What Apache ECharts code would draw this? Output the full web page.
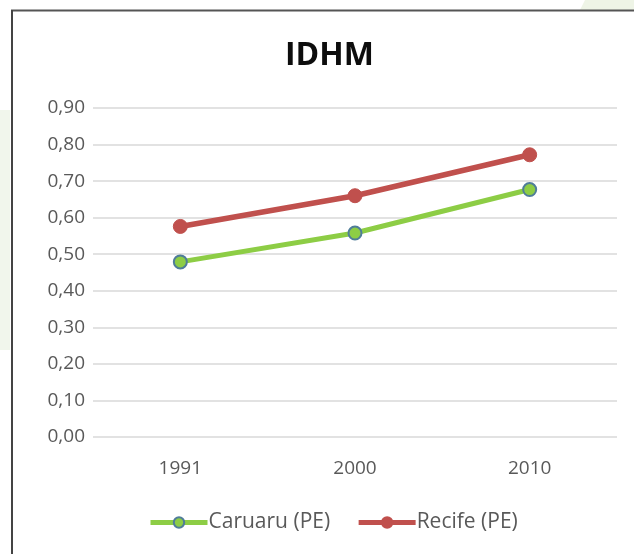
<!DOCTYPE html>
<html>
<head>
<meta charset="utf-8">
<script src="https://cdn.jsdelivr.net/npm/echarts@6/dist/echarts.min.js"></script>
<style>html,body{margin:0;padding:0;background:#fff}#c{width:634px;height:554px}</style>
</head>
<body>
<div id="c"></div>
<script>
const categories = ['1991', '2000', '2010'];
const caruaru = [0.479, 0.558, 0.677];
const recife = [0.576, 0.660, 0.772];
const yMin = 0, yMax = 0.9, yStep = 0.1;

const chart = echarts.init(document.getElementById('c'), null, {renderer: 'canvas'});
const font = 'Open Sans';
chart.setOption({
  backgroundColor: '#ffffff',
  animation: false,
  title: {
    text: 'IDHM', left: 280, top: 35,
    textStyle: {fontFamily: font, fontWeight: 'bold', fontSize: 32, color: '#0d0d0d'}
  },
  graphic: [
    {type: 'polygon', silent: true, z: -1, shape: {points: [[585, 0], [634, 0], [634, 10], [580, 10]]}, style: {fill: '#eef4e6'}},
    {type: 'rect', silent: true, z: -1, shape: {x: 0, y: 110, width: 10, height: 240}, style: {fill: '#f1f6ec'}},
    {type: 'line', silent: true, shape: {x1: 11, y1: 10.5, x2: 634, y2: 10.5}, style: {stroke: '#555', lineWidth: 2}},
    {type: 'line', silent: true, shape: {x1: 12, y1: 10, x2: 12, y2: 554}, style: {stroke: '#444', lineWidth: 2}}
  ],
  legend: {
    bottom: 16, left: 143, itemGap: 26, itemWidth: 57, itemHeight: 13,
    lineStyle: {width: 5},
    textStyle: {fontFamily: font, fontSize: 21, color: '#595959', padding: [0, 0, 0, -4]},
    data: ['Caruaru (PE)', 'Recife (PE)']
  },
  grid: {left: 93, right: 17, top: 108, bottom: 117, containLabel: false},
  xAxis: {
    type: 'category', data: categories, boundaryGap: true,
    axisLine: {show: false}, axisTick: {show: false},
    axisLabel: {fontFamily: font, fontSize: 19, color: '#595959', margin: 22}
  },
  yAxis: {
    type: 'value', min: yMin, max: yMax, interval: yStep,
    axisLine: {show: false}, axisTick: {show: false},
    axisLabel: {fontFamily: font, fontSize: 19, color: '#595959', margin: 8,
      formatter: v => v.toFixed(2).replace('.', ',')},
    splitLine: {lineStyle: {color: '#d9d9d9', width: 1.5}}
  },
  series: [
    {
      name: 'Caruaru (PE)', type: 'line', data: caruaru,
      symbol: 'circle', symbolSize: 13,
      lineStyle: {color: '#8dcd45', width: 5},
      itemStyle: {color: '#8dcd45', borderColor: '#4f7d99', borderWidth: 2}
    },
    {
      name: 'Recife (PE)', type: 'line', data: recife,
      symbol: 'circle', symbolSize: 14,
      lineStyle: {color: '#c0504d', width: 5.5},
      itemStyle: {color: '#c0504d', borderColor: '#c0504d', borderWidth: 1}
    }
  ]
});
</script>
</body>
</html>
